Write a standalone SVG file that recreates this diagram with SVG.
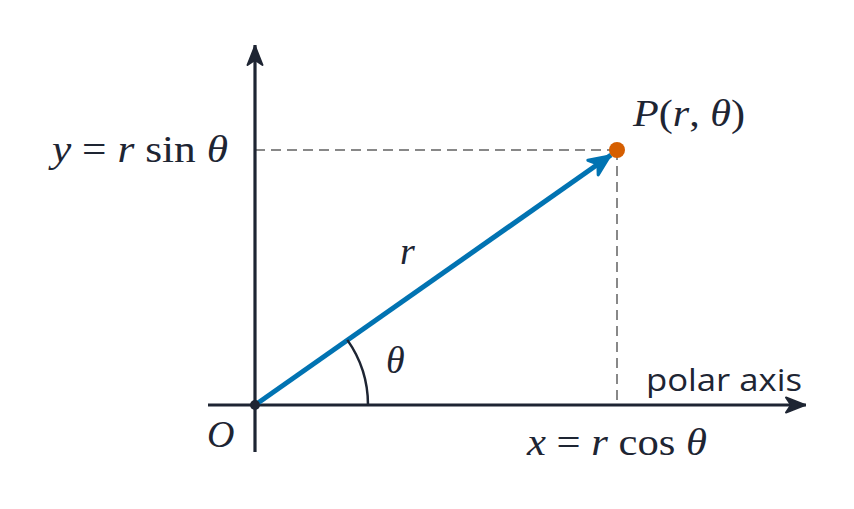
<svg xmlns="http://www.w3.org/2000/svg" width="854" height="509" viewBox="0 0 854 509">
<style>
.math{font-family:"Liberation Serif","DejaVu Serif",serif;font-size:38px;fill:#1e2533}
.it{font-style:italic}
.sans{font-family:"Open Sans","Noto Sans",sans-serif;font-size:31px;font-weight:500;fill:#1e2533}
.axis{stroke:#1e2533;stroke-width:3.2;fill:none}
.dash{stroke:#888;stroke-width:2;stroke-dasharray:10 6;fill:none}
</style>
<defs>
<marker id="ah" markerUnits="userSpaceOnUse" viewBox="-24 -12 26 24" refX="0" refY="0" markerWidth="26" markerHeight="24" orient="auto">
<path d="M-1,0 L-20,-7.5 L-15,0 L-20,7.5 Z" fill="#1e2533" stroke="#1e2533" stroke-width="2" stroke-linejoin="round"/>
</marker>
<marker id="bh" markerUnits="userSpaceOnUse" viewBox="-28 -14 30 28" refX="0" refY="0" markerWidth="30" markerHeight="28" orient="auto">
<path d="M-1.5,0 L-22,-9 L-16,0 L-22,9 Z" fill="#0173b2" stroke="#0173b2" stroke-width="3" stroke-linejoin="round"/>
</marker>
</defs>
<g id="guides">
<line class="dash" x1="255" y1="150" x2="617" y2="150"/>
<line class="dash" x1="617" y1="150" x2="617" y2="405"/>
</g>
<g id="axes">
<line class="axis" x1="208" y1="405" x2="806" y2="405" marker-end="url(#ah)"/>
<line class="axis" x1="255" y1="452" x2="255" y2="45" marker-end="url(#ah)"/>
</g>
<g id="connectors">
<line x1="255" y1="405" x2="611" y2="155" stroke="#0173b2" stroke-width="5" marker-end="url(#bh)"/>
<path id="angle-arc" d="M347.3,339.9 A113,113 0 0 1 368,405" fill="none" stroke="#1e2533" stroke-width="2.5"/>
</g>
<g id="origin">
<circle cx="255" cy="405" r="5" fill="#1e2533"/>
<text class="math it" x="207" y="447">O</text>
</g>
<g id="point-P">
<circle cx="617" cy="150" r="8" fill="#d55e00"/>
<text class="math" x="633" y="126" textLength="112" lengthAdjust="spacingAndGlyphs"><tspan class="it">P</tspan>(<tspan class="it">r</tspan>, <tspan class="it">θ</tspan>)</text>
</g>
<g id="labels">
<text class="math" x="52" y="162" textLength="176" lengthAdjust="spacingAndGlyphs"><tspan class="it">y</tspan> = <tspan class="it">r</tspan> sin <tspan class="it">θ</tspan></text>
<text class="math" x="527" y="455" textLength="180" lengthAdjust="spacingAndGlyphs"><tspan class="it">x</tspan> = <tspan class="it">r</tspan> cos <tspan class="it">θ</tspan></text>
<text class="math it" x="400" y="264">r</text>
<text class="math it" x="386" y="373">θ</text>
<text class="sans" x="646" y="391" textLength="156" lengthAdjust="spacingAndGlyphs">polar axis</text>
</g>
</svg>
